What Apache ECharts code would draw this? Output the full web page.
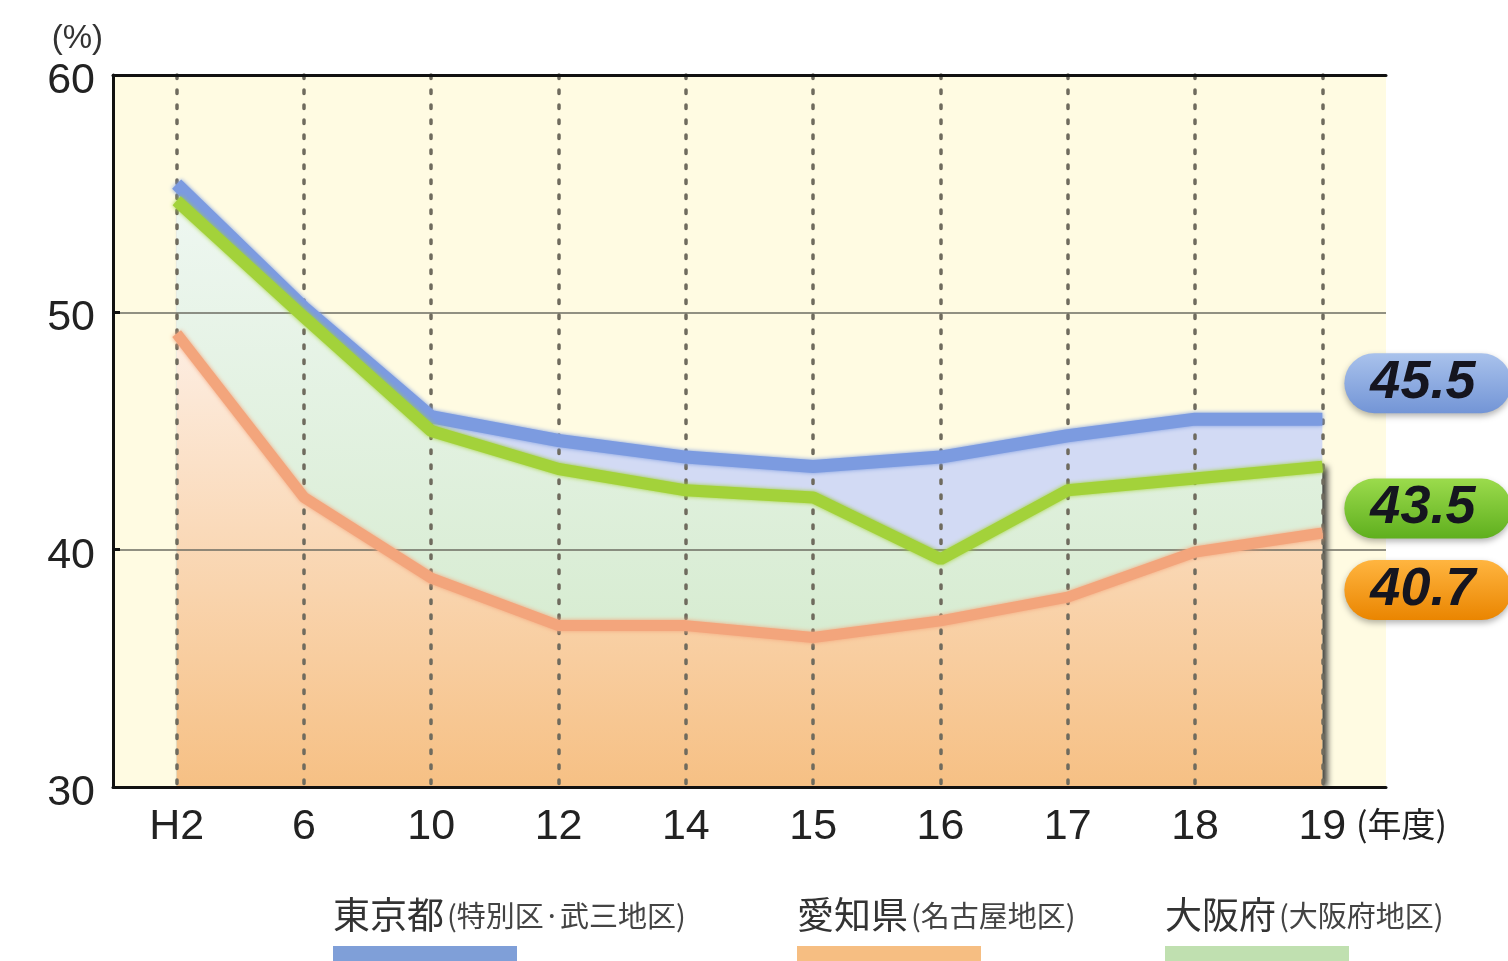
<!DOCTYPE html>
<html>
<head>
<meta charset="utf-8">
<title>年度別推移</title>
<script src="https://cdn.jsdelivr.net/npm/echarts@6/dist/echarts.min.js"></script>
<style>
  html, body { margin: 0; padding: 0; background: #ffffff; }
  #chart { width: 1508px; height: 961px; }
</style>
</head>
<body>
<div id="chart"></div>
<script>
// 年度 (x軸カテゴリ)
const categories = ['H2', '6', '10', '12', '14', '15', '16', '17', '18', '19'];

// 各地域の比率 (%)
const tokyo = [55.4, 50.2, 45.6, 44.6, 43.9, 43.5, 43.9, 44.8, 45.5, 45.5];
const osaka = [54.7, 49.8, 45.0, 43.4, 42.5, 42.2, 39.6, 42.5, 43.0, 43.5];
const aichi = [49.1, 42.2, 38.8, 36.8, 36.8, 36.3, 37.0, 38.0, 39.9, 40.7];

// 凡例
const regionNames = ['東京都', '愛知県', '大阪府'];
const regionNotes = ['(特別区·武三地区)', '(名古屋地区)', '(大阪府地区)'];

// y軸の範囲
const yMin = 30, yMax = 60, yStep = 10;

const FONT = '"Liberation Sans", Arial, "Noto Sans CJK JP", sans-serif';
const CJK = '"Noto Sans CJK JP", "Noto Sans", sans-serif';

const lineColors = { '東京都': '#7c9be0', '愛知県': '#f3a57c', '大阪府': '#a3d23a' };
const legendColors = { '東京都': '#7f9fd8', '愛知県': '#f6be82', '大阪府': '#c0e0b0' };

function vGrad(top, bottom) {
  return new echarts.graphic.LinearGradient(0, 0, 0, 1, [
    { offset: 0, color: top }, { offset: 1, color: bottom }
  ]);
}

function areaSeries(name, data, fill, extra) {
  return {
    name: name, type: 'line', data: data, z: 2,
    symbol: 'none', silent: true,
    lineStyle: { width: 0 },
    areaStyle: Object.assign({ origin: 'start', color: fill, opacity: 1 }, extra || {})
  };
}

function lineSeries(name, data, width, labelBg, offsetY) {
  return {
    name: name, type: 'line', data: data, z: 4,
    symbol: 'none',
    lineStyle: { color: lineColors[name], width: width, shadowBlur: 4, shadowColor: lineColors[name] },
    itemStyle: { color: lineColors[name] },
    endLabel: {
      show: true,
      distance: 22,
      offset: [0, offsetY],
      formatter: function (p) { return Number(p.value).toFixed(1); },
      fontFamily: FONT,
      fontSize: 54,
      fontWeight: 'bold',
      fontStyle: 'italic',
      color: '#15151f',
      backgroundColor: labelBg,
      borderRadius: 30,
      padding: [4, 36, 2, 26],
      shadowBlur: 6,
      shadowOffsetY: 3,
      shadowColor: 'rgba(0,0,0,0.3)'
    }
  };
}

const legends = [];
regionNames.forEach(function (name, i) {
  const lefts = [328, 792, 1160];
  // 地域名と注記
  legends.push({
    data: [name],
    left: lefts[i], top: 896, padding: 0,
    icon: 'rect', itemWidth: 0, itemHeight: 0,
    selectedMode: false,
    formatter: function (n) { return '{a|' + n + '}{b|' + regionNotes[regionNames.indexOf(n)] + '}'; },
    textStyle: {
      rich: {
        a: { fontFamily: CJK, fontSize: 37, color: '#333', verticalAlign: 'bottom' },
        b: { fontFamily: CJK, fontSize: 29, color: '#444', verticalAlign: 'bottom', padding: [0, 0, 3, 3] }
      }
    }
  });
  // 色見本
  legends.push({
    data: [{ name: name, itemStyle: { color: legendColors[name] } }],
    left: lefts[i] + 5, top: 946, padding: 0,
    icon: 'rect', itemWidth: 184, itemHeight: 16,
    selectedMode: false,
    formatter: function () { return ''; },
    textStyle: { fontSize: 8 }
  });
});

const option = {
  backgroundColor: '#ffffff',
  animation: false,
  grid: {
    left: 113, right: 122, top: 75, bottom: 174,
    show: true, backgroundColor: '#fffbe2', borderWidth: 0
  },
  legend: legends,
  xAxis: [
    {
      type: 'category', data: categories, boundaryGap: true, z: 3,
      name: '(年度)', nameLocation: 'end', nameGap: -30,
      nameTextStyle: { fontFamily: CJK, fontSize: 34, color: '#222', align: 'left', verticalAlign: 'top', padding: [20, 0, 0, 0] },
      axisLine: { lineStyle: { color: '#111', width: 3 } },
      axisTick: { show: false },
      axisLabel: { fontFamily: FONT, fontSize: 43, color: '#222', margin: 19 },
      splitLine: {
        show: true, alignWithLabel: true,
        lineStyle: { color: '#6f6b5e', width: 3.5, type: [3.5, 11.5], cap: 'round' }
      }
    },
    {
      type: 'category', data: categories, position: 'top', z: 3,
      axisLine: { lineStyle: { color: '#111', width: 3 } },
      axisTick: { show: false }, axisLabel: { show: false }, splitLine: { show: false }
    }
  ],
  yAxis: {
    type: 'value', min: yMin, max: yMax, interval: yStep, z: 3,
    name: '(%)', nameLocation: 'end', nameGap: 20,
    nameTextStyle: { fontFamily: FONT, fontSize: 33, color: '#333', align: 'right', padding: [0, 10, 0, 0] },
    axisLine: { show: true, lineStyle: { color: '#111', width: 3 } },
    axisTick: { show: true, inside: true, length: 7, lineStyle: { color: '#111', width: 3 } },
    axisLabel: {
      margin: 18,
      formatter: function (v) { return '{v|' + v + '}'; },
      rich: { v: { fontFamily: FONT, fontSize: 43, color: '#222', padding: [12, 0, 0, 0] } }
    },
    splitLine: { show: true, lineStyle: { color: '#6d6d62', width: 1.5 } }
  },
  series: [
    areaSeries('東京都', tokyo, '#d2daf4'),
    areaSeries('大阪府', osaka, vGrad('#eef7f1', '#cfe8c6'),
      { shadowBlur: 6, shadowOffsetX: 5, shadowColor: 'rgba(30,30,30,0.85)' }),
    areaSeries('愛知県', aichi, vGrad('#fdeee3', '#f6c084')),
    lineSeries('東京都', tokyo, 13, vGrad('#a9c2ec', '#7395d6'), -36),
    lineSeries('大阪府', osaka, 12, vGrad('#9bdb4c', '#5faf1e'), 42),
    lineSeries('愛知県', aichi, 11, vGrad('#ffb540', '#ea8500'), 57)
  ]
};

const chart = echarts.init(document.getElementById('chart'), null, { renderer: 'canvas' });
chart.setOption(option);
</script>
</body>
</html>
